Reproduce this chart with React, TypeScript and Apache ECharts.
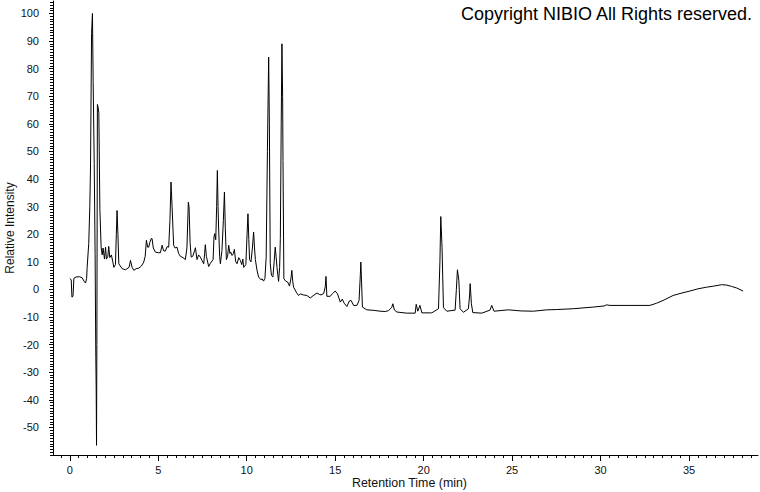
import React, { useEffect, useRef } from "react";
import * as echarts from "echarts";

// Retention time (min) and relative intensity
const times: number[] = [
  0.0, 0.08, 0.12, 0.18, 0.23, 0.35, 0.55, 0.7, 0.82, 0.89, 0.95, 0.98, 1.07, 1.13, 1.17, 1.23, 1.28, 1.32, 1.38, 1.43,
  1.47, 1.49, 1.51, 1.53, 1.56, 1.6, 1.64, 1.7, 1.77, 1.83, 1.88, 1.96, 2.02, 2.07, 2.15, 2.2, 2.26, 2.35, 2.43, 2.49,
  2.58, 2.63, 2.67, 2.72, 2.77, 2.96, 3.15, 3.35, 3.43, 3.52, 3.62, 3.75, 3.9, 4.05, 4.18, 4.26, 4.33, 4.4, 4.46, 4.52,
  4.6, 4.65, 4.72, 4.84, 5.0, 5.12, 5.22, 5.3, 5.4, 5.5, 5.59, 5.66, 5.72, 5.78, 5.87, 5.95, 6.06, 6.15, 6.25, 6.4,
  6.53, 6.62, 6.7, 6.74, 6.8, 6.86, 6.95, 7.05, 7.1, 7.19, 7.28, 7.38, 7.47, 7.57, 7.62, 7.66, 7.72, 7.85, 7.95, 8.1,
  8.15, 8.19, 8.25, 8.3, 8.34, 8.38, 8.41, 8.47, 8.51, 8.6, 8.68, 8.74, 8.79, 8.85, 8.92, 8.98, 9.05, 9.1, 9.17, 9.25,
  9.3, 9.38, 9.45, 9.55, 9.64, 9.72, 9.78, 9.83, 9.95, 10.02, 10.07, 10.12, 10.16, 10.24, 10.32, 10.39, 10.44, 10.49, 10.58, 10.67,
  10.8, 10.87, 10.95, 11.03, 11.1, 11.17, 11.24, 11.28, 11.33, 11.4, 11.48, 11.55, 11.61, 11.66, 11.71, 11.8, 11.86, 11.9, 11.95, 11.99,
  12.03, 12.05, 12.1, 12.2, 12.31, 12.42, 12.5, 12.55, 12.6, 12.65, 12.8, 12.93, 13.03, 13.2, 13.4, 13.59, 13.75, 13.97, 14.1, 14.2,
  14.35, 14.44, 14.48, 14.53, 14.72, 14.85, 15.0, 15.13, 15.29, 15.4, 15.51, 15.66, 15.8, 15.9, 16.04, 16.23, 16.35, 16.42, 16.45, 16.49,
  16.54, 16.79, 17.2, 17.54, 17.83, 18.01, 18.2, 18.26, 18.35, 18.49, 19.05, 19.52, 19.58, 19.67, 19.79, 19.9, 20.46, 20.84, 20.92, 20.97,
  21.04, 21.12, 21.31, 21.78, 21.85, 21.91, 21.99, 22.06, 22.25, 22.53, 22.6, 22.63, 22.7, 22.78, 23.29, 23.75, 23.85, 23.98, 24.79, 25.5,
  26.2, 26.96, 27.5, 28.46, 29.59, 30.2, 30.34, 30.53, 31.5, 32.79, 33.17, 33.6, 34.1, 34.6, 35.05, 35.5, 35.99, 36.4, 36.84, 37.1,
  37.4, 37.7, 38.06,
];
const intensity: number[] = [
  3.9, 3.5, -2.8, -2.5, 4.0, 4.5, 4.6, 4.2, 2.8, 2.3, 4, 8, 16.6, 30, 44, 92.7, 100, 75, 45.6, 13,
  -24.6, -35, -56.5, -20, 67, 66, 64, 29, 15.3, 12.5, 15, 11, 15.3, 11, 12, 15.6, 11.5, 12.5, 10, 8,
  9, 20, 28.6, 20, 9.3, 7.5, 7.1, 8, 10.5, 8, 6.9, 7.5, 7.7, 8.5, 9.9, 12, 17.8, 15.3, 15.3, 17,
  18.4, 18.4, 15, 13.5, 13.3, 13.3, 16, 14, 13.9, 15.5, 15.3, 25, 38.9, 30, 16, 15, 15.3, 13, 12, 11.5,
  10.8, 15, 31.6, 30, 17, 11.7, 12, 14, 15.1, 10.8, 12.5, 11.7, 10.5, 9.3, 13, 16.2, 12, 8.3, 9.5, 10.8,
  19, 20.2, 18, 30, 43.1, 30, 22.6, 12, 9.3, 14.1, 25, 35.3, 22, 10.8, 12, 16, 13, 13.5, 12.3, 13,
  14.5, 10, 9.3, 11.5, 10.5, 9, 11, 8, 9, 20, 27.4, 18, 10.8, 10, 15, 20.8, 15, 10.8, 7, 4.5,
  3.5, 3.8, 3, 4, 11.7, 50, 84.2, 60, 9.3, 5, 4.5, 10, 15.3, 12, 8, 2.9, 8, 18.4, 60, 89,
  70, 46.7, 3.9, 3, 2.7, 1.2, 4, 6.9, 3, 0.8, -1, -2.2, -1.6, -2, -2.2, -3.1, -2.3, -1.3, -1.8, -2,
  -1.5, 1, 4.7, -2.5, -2.5, -1.5, -0.6, -1.6, -4.6, -3.5, -5, -6.2, -4.2, -4, -5.8, -5.8, -4, 5, 9.9, 3,
  -6.4, -7.4, -7.6, -7.9, -8, -7.7, -6.5, -5.2, -7.5, -8.2, -8.6, -8.6, -5.4, -7.9, -5.8, -8.5, -8.5, -7, 10, 26.4,
  15.3, -6.6, -7.9, -7.5, 0, 7.1, 3.3, -7, -8.3, -7, -2, 2.1, -5.2, -8.4, -8.6, -7.5, -5.8, -7.9, -7.4, -7.8,
  -7.9, -7.4, -7.3, -7, -6.4, -6.0, -5.6, -5.8, -5.8, -5.8, -5, -3.8, -2.2, -1.3, -0.6, 0.2, 0.8, 1.2, 1.7, 1.6,
  1.1, 0.5, -0.6,
];

const xTickLabels: number[] = [0, 5, 10, 15, 20, 25, 30, 35];
const yTickLabels: number[] = [-50, -40, -30, -20, -10, 0, 10, 20, 30, 40, 50, 60, 70, 80, 90, 100];
const xMin = -0.95;
const xMax = 38.9;
const yMin = -60;
const yMax = 104.5;

const xMinor: number[] = [];
for (let v = -0.5; v <= 38.5 + 1e-9; v += 0.5) xMinor.push(Math.round(v * 10) / 10);
const yMinor: number[] = [];
for (let v = -60; v <= 104; v += 1) yMinor.push(v);

export default function App() {
  const ref = useRef<HTMLDivElement>(null);
  useEffect(() => {
    if (!ref.current) return;
    const chart = echarts.init(ref.current, null, { renderer: "svg" });
    const labelStyle = { color: "#111", fontSize: 11, fontFamily: "Arial, 'Liberation Sans', sans-serif" };
    const black = { color: "#000", width: 1 };
    chart.setOption({
      animation: false,
      backgroundColor: "#fff",
      grid: { left: 53, right: 2, top: 1, bottom: 37, containLabel: false, outerBoundsMode: "none" },
      xAxis: [
        {
          type: "value",
          min: xMin,
          max: xMax,
          position: "bottom",
          axisLine: { show: true, onZero: false, lineStyle: black },
          axisTick: { show: true, customValues: xTickLabels, length: 6, lineStyle: black },
          axisLabel: { show: true, customValues: xTickLabels, margin: 9, ...labelStyle },
          splitLine: { show: false },
          name: "Retention Time (min)",
          nameLocation: "middle",
          nameGap: 22,
          nameMoveOverlap: false,
          nameTextStyle: { color: "#111", fontSize: 12.4, fontFamily: "Arial, 'Liberation Sans', sans-serif", padding: [0, 0, 0, 8] },
        },
        {
          type: "value",
          min: xMin,
          max: xMax,
          position: "bottom",
          offset: 0,
          axisLine: { show: false, onZero: false },
          axisTick: { show: true, customValues: xMinor, length: 3, lineStyle: black },
          axisLabel: { show: false },
          splitLine: { show: false },
        },
      ],
      yAxis: [
        {
          type: "value",
          min: yMin,
          max: yMax,
          position: "left",
          axisLine: { show: true, onZero: false, lineStyle: black },
          axisTick: { show: true, customValues: yTickLabels, length: 4, lineStyle: black },
          axisLabel: { show: true, customValues: yTickLabels, margin: 14, ...labelStyle },
          splitLine: { show: false },
          name: "Relative Intensity",
          nameLocation: "middle",
          nameGap: 37,
          nameMoveOverlap: false,
          nameTextStyle: { color: "#111", fontSize: 12, fontFamily: "Arial, 'Liberation Sans', sans-serif" },
        },
        {
          type: "value",
          min: yMin,
          max: yMax,
          position: "left",
          offset: 0,
          axisLine: { show: false, onZero: false },
          axisTick: { show: true, customValues: yMinor, length: 3, lineStyle: black },
          axisLabel: { show: false },
          splitLine: { show: false },
        },
      ],
      graphic: [
        {
          type: "text",
          right: 7,
          top: 5,
          style: {
            text: "Copyright NIBIO All Rights reserved.",
            font: "18px Arial, 'Liberation Sans', sans-serif",
            fill: "#000",
          },
        },
      ],
      series: [
        {
          type: "line",
          xAxisIndex: 0,
          yAxisIndex: 0,
          data: times.map((t, i) => [t, intensity[i]]),
          showSymbol: false,
          symbol: "none",
          lineStyle: { color: "#000", width: 1 },
          silent: true,
        },
      ],
    });
    return () => chart.dispose();
  }, []);
  return <div ref={ref} style={{ position: "fixed", left: 0, top: 0, width: 760, height: 492, background: "#fff" }} />;
}
